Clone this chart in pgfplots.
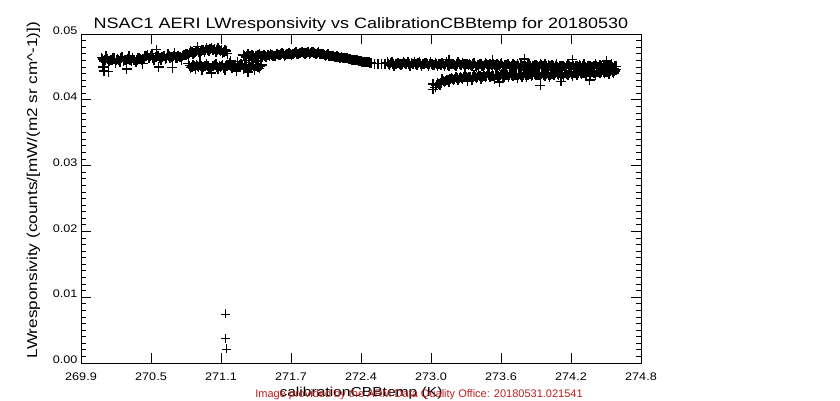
\documentclass[border=0pt]{standalone}
\usepackage{fontspec}
\setmainfont{Liberation Sans}
\newfontfamily\titlefont[FakeStretch=1.2]{Liberation Sans}
\newfontfamily\tickfont[FakeStretch=1.15]{Liberation Sans}
\usepackage{pgfplots}
\usepackage{pgfplotstable}
\pgfplotsset{compat=1.18}
\definecolor{armred}{RGB}{190,30,30}
\pgfplotstableread{
x y
271.16 0.00745
271.16 0.0038
271.17 0.00213
}\outliers
\pgfplotstableread{
x y
270.08 0.0464
270.09 0.0450
270.10 0.0459
270.10 0.0444
270.12 0.0466
270.14 0.0457
270.14 0.0443
270.16 0.0461
270.18 0.0463
270.20 0.0456
270.22 0.0462
270.24 0.0458
270.26 0.0465
270.28 0.0460
270.30 0.0458
270.30 0.0447
270.32 0.0467
270.34 0.0459
270.36 0.0461
270.38 0.0457
270.40 0.0464
270.42 0.0462
270.44 0.0455
270.46 0.0467
270.48 0.0468
270.50 0.0463
270.52 0.0470
270.54 0.0461
270.56 0.0465
270.56 0.0476
270.58 0.0467
270.58 0.0450
270.60 0.0460
270.62 0.0466
270.64 0.0462
270.66 0.0469
270.68 0.0464
270.70 0.0462
270.70 0.0449
270.72 0.0471
270.74 0.0463
270.76 0.0465
270.78 0.0461
270.80 0.0468
270.82 0.0470
270.84 0.0466
270.86 0.0474
270.88 0.0469
270.90 0.0473
270.92 0.0477
270.92 0.0481
270.94 0.0471
270.96 0.0476
270.98 0.0473
271.00 0.0478
271.02 0.0474
271.04 0.0479
271.06 0.0475
271.08 0.0472
271.10 0.0478
271.12 0.0474
271.14 0.0471
271.16 0.0476
271.18 0.0470
270.84 0.0455
270.86 0.0449
270.88 0.0453
270.90 0.0447
270.92 0.0452
270.94 0.0456
270.96 0.0446
270.98 0.0451
271.00 0.0454
271.02 0.0448
271.04 0.0441
271.06 0.0452
271.08 0.0455
271.10 0.0447
271.12 0.0450
271.14 0.0453
271.16 0.0446
271.18 0.0451
271.20 0.0456
271.22 0.0448
271.24 0.0453
271.26 0.0444
271.28 0.0450
271.30 0.0455
271.32 0.0447
271.34 0.0452
271.36 0.0442
271.38 0.0449
271.40 0.0454
271.42 0.0446
271.44 0.0451
271.46 0.0448
271.48 0.0453
271.21 0.0459
271.27 0.0458
271.33 0.0460
271.39 0.0457
271.45 0.0459
271.32 0.0468
271.34 0.0465
271.36 0.0469
271.38 0.0466
271.40 0.0468
271.42 0.0464
271.44 0.0467
271.46 0.0469
271.48 0.0466
271.50 0.0468
271.52 0.0465
271.54 0.0468
271.56 0.0470
271.58 0.0466
271.60 0.0467
271.62 0.0470
271.64 0.0468
271.66 0.0471
271.68 0.0467
271.70 0.0469
271.72 0.0471
271.74 0.0468
271.76 0.0470
271.78 0.0472
271.80 0.0469
271.82 0.0471
271.84 0.0473
271.86 0.0470
271.88 0.0472
271.90 0.0470
271.92 0.0473
271.94 0.0471
271.96 0.0469
271.98 0.0472
272.00 0.0469
272.02 0.0470
272.04 0.0467
272.06 0.0469
272.08 0.0466
272.10 0.0467
272.12 0.0465
272.14 0.0466
272.16 0.0464
272.18 0.0465
272.20 0.0463
272.22 0.0464
272.24 0.0462
272.26 0.0462
272.28 0.0461
272.30 0.0460
272.32 0.0460
272.34 0.0459
272.36 0.0458
272.38 0.0458
272.40 0.0457
272.42 0.0457
272.44 0.0456
272.47 0.0455
272.50 0.0455
272.53 0.0455
272.56 0.0455
272.58 0.0457
272.60 0.0453
272.62 0.0458
272.64 0.0452
272.66 0.0455
272.68 0.0456
272.70 0.0453
272.72 0.0458
272.74 0.0454
272.76 0.0457
272.78 0.0452
272.80 0.0455
272.82 0.0457
272.84 0.0453
272.86 0.0458
272.88 0.0452
272.90 0.0455
272.92 0.0456
272.94 0.0452
272.96 0.0457
272.98 0.0453
273.00 0.0456
273.02 0.0451
273.04 0.0454
273.06 0.0456
273.08 0.0452
273.10 0.0457
273.12 0.0451
273.14 0.0454
273.16 0.0455
273.18 0.0452
273.20 0.0457
273.22 0.0453
273.24 0.0456
273.26 0.0451
273.28 0.0454
273.30 0.0455
273.32 0.0451
273.34 0.0456
273.36 0.0450
273.38 0.0453
273.40 0.0454
273.42 0.0451
273.44 0.0456
273.46 0.0452
273.48 0.0455
273.50 0.0450
273.52 0.0453
273.54 0.0455
273.56 0.0451
273.58 0.0456
273.60 0.0450
273.62 0.0453
273.64 0.0454
273.66 0.0450
273.68 0.0455
273.70 0.0451
273.72 0.0454
273.74 0.0449
273.76 0.0452
273.78 0.0454
273.80 0.0450
273.82 0.0455
273.84 0.0449
273.86 0.0452
273.88 0.0453
273.90 0.0450
273.92 0.0455
273.94 0.0451
273.96 0.0454
273.98 0.0449
274.00 0.0452
274.02 0.0453
274.04 0.0449
274.06 0.0454
274.08 0.0448
274.10 0.0451
274.12 0.0452
274.14 0.0449
274.16 0.0454
274.18 0.0450
274.20 0.0453
274.22 0.0448
274.24 0.0451
274.26 0.0453
274.28 0.0449
274.30 0.0454
274.32 0.0448
274.34 0.0451
274.36 0.0452
274.38 0.0449
274.40 0.0454
274.42 0.0450
274.44 0.0453
274.46 0.0448
274.48 0.0451
274.50 0.0453
274.52 0.0449
274.54 0.0454
274.56 0.0448
274.58 0.0451
273.12 0.0461
273.50 0.0460
273.78 0.0462
274.20 0.0461
274.50 0.0459
272.98 0.0416
273.00 0.0419
272.98 0.0424
273.02 0.0425
273.04 0.0423
273.06 0.0431
273.08 0.0427
273.10 0.0430
273.12 0.0427
273.14 0.0433
273.16 0.0430
273.18 0.0435
273.20 0.0430
273.22 0.0434
273.24 0.0431
273.26 0.0438
273.28 0.0433
273.30 0.0434
273.32 0.0430
273.34 0.0437
273.36 0.0433
273.38 0.0438
273.40 0.0432
273.42 0.0436
273.44 0.0434
273.46 0.0440
273.48 0.0435
273.50 0.0436
273.52 0.0432
273.54 0.0438
273.56 0.0434
273.58 0.0439
273.60 0.0434
273.62 0.0438
273.64 0.0435
273.66 0.0441
273.68 0.0436
273.70 0.0437
273.72 0.0433
273.74 0.0439
273.76 0.0435
273.78 0.0440
273.80 0.0434
273.82 0.0439
273.84 0.0436
273.86 0.0442
273.88 0.0437
273.90 0.0438
273.92 0.0434
273.94 0.0440
273.96 0.0436
273.98 0.0441
274.00 0.0435
274.02 0.0439
274.04 0.0437
274.06 0.0443
274.08 0.0438
274.10 0.0439
274.12 0.0435
274.14 0.0441
274.16 0.0437
274.18 0.0442
274.20 0.0436
274.22 0.0441
274.24 0.0438
274.26 0.0444
274.28 0.0439
274.30 0.0440
274.32 0.0436
274.34 0.0443
274.36 0.0439
274.38 0.0444
274.40 0.0438
274.42 0.0442
274.44 0.0440
274.46 0.0446
274.48 0.0441
274.50 0.0442
274.52 0.0439
274.54 0.0445
274.56 0.0441
274.58 0.0446
273.28 0.0428
273.56 0.0427
273.92 0.0422
274.10 0.0428
274.35 0.0430
270.09 0.0462
270.11 0.0460
270.13 0.0462
270.15 0.0459
270.17 0.0461
270.19 0.0463
270.21 0.0460
270.23 0.0461
270.25 0.0463
270.27 0.0459
270.29 0.0461
270.31 0.0462
270.33 0.0460
270.35 0.0463
270.37 0.0460
270.39 0.0461
270.41 0.0463
270.43 0.0460
270.45 0.0462
270.47 0.0466
270.49 0.0464
270.51 0.0466
270.53 0.0463
270.55 0.0465
270.57 0.0467
270.59 0.0464
270.61 0.0465
270.63 0.0467
270.65 0.0464
270.67 0.0466
270.69 0.0465
270.71 0.0467
270.73 0.0464
270.75 0.0466
270.77 0.0465
270.79 0.0467
270.81 0.0468
270.83 0.0469
270.85 0.0471
270.87 0.0472
270.89 0.0471
270.91 0.0474
270.93 0.0473
270.95 0.0474
270.97 0.0476
270.99 0.0475
271.01 0.0476
271.03 0.0477
271.05 0.0476
271.07 0.0477
271.09 0.0475
271.11 0.0476
271.13 0.0475
271.15 0.0473
271.17 0.0474
270.85 0.0452
270.87 0.0450
270.89 0.0451
270.91 0.0453
270.93 0.0450
270.95 0.0452
270.97 0.0450
270.99 0.0452
271.01 0.0451
271.03 0.0449
271.05 0.0451
271.07 0.0453
271.09 0.0450
271.11 0.0452
271.13 0.0451
271.15 0.0449
271.17 0.0452
271.19 0.0453
271.21 0.0451
271.23 0.0452
271.25 0.0450
271.27 0.0452
271.29 0.0451
271.31 0.0453
271.33 0.0450
271.35 0.0451
271.37 0.0452
271.39 0.0450
271.41 0.0451
271.43 0.0452
271.45 0.0450
271.47 0.0451
271.33 0.0467
271.35 0.0466
271.37 0.0467
271.39 0.0468
271.41 0.0466
271.43 0.0467
271.45 0.0468
271.47 0.0467
271.49 0.0466
271.51 0.0467
271.53 0.0468
271.55 0.0467
271.57 0.0468
271.59 0.0467
271.61 0.0469
271.63 0.0468
271.65 0.0469
271.67 0.0470
271.69 0.0468
271.71 0.0470
271.73 0.0469
271.75 0.0470
271.77 0.0471
271.79 0.0470
271.81 0.0471
271.83 0.0472
271.85 0.0471
271.87 0.0471
271.89 0.0472
271.91 0.0471
271.93 0.0472
271.95 0.0470
271.97 0.0471
271.99 0.0470
272.01 0.0470
272.03 0.0468
272.05 0.0468
272.07 0.0467
272.09 0.0467
272.11 0.0466
272.13 0.0465
272.15 0.0465
272.17 0.0464
272.19 0.0464
272.21 0.0463
272.23 0.0463
272.25 0.0462
272.27 0.0461
272.29 0.0461
272.31 0.0460
272.33 0.0459
272.35 0.0459
272.37 0.0458
272.39 0.0457
272.41 0.0457
272.43 0.0456
272.59 0.0455
272.61 0.0456
272.63 0.0454
272.65 0.0455
272.67 0.0456
272.69 0.0454
272.71 0.0455
272.73 0.0456
272.75 0.0454
272.77 0.0455
272.79 0.0456
272.81 0.0454
272.83 0.0455
272.85 0.0456
272.87 0.0454
272.89 0.0455
272.91 0.0456
272.93 0.0454
272.95 0.0454
272.97 0.0455
272.99 0.0453
273.01 0.0454
273.03 0.0455
273.05 0.0453
273.07 0.0454
273.09 0.0455
273.11 0.0453
273.13 0.0454
273.15 0.0455
273.17 0.0453
273.19 0.0454
273.21 0.0455
273.23 0.0453
273.25 0.0454
273.27 0.0455
273.29 0.0453
273.31 0.0453
273.33 0.0454
273.35 0.0452
273.37 0.0453
273.39 0.0454
273.41 0.0452
273.43 0.0453
273.45 0.0454
273.47 0.0452
273.49 0.0453
273.51 0.0454
273.53 0.0452
273.55 0.0453
273.57 0.0454
273.59 0.0452
273.61 0.0453
273.63 0.0454
273.65 0.0452
273.67 0.0452
273.69 0.0453
273.71 0.0451
273.73 0.0452
273.75 0.0453
273.77 0.0451
273.79 0.0452
273.81 0.0453
273.83 0.0451
273.85 0.0452
273.87 0.0453
273.89 0.0451
273.91 0.0452
273.93 0.0453
273.95 0.0451
273.97 0.0452
273.99 0.0453
274.01 0.0451
274.03 0.0451
274.05 0.0452
274.07 0.0450
274.09 0.0451
274.11 0.0452
274.13 0.0450
274.15 0.0451
274.17 0.0452
274.19 0.0450
274.21 0.0451
274.23 0.0452
274.25 0.0450
274.27 0.0451
274.29 0.0452
274.31 0.0450
274.33 0.0451
274.35 0.0452
274.37 0.0450
274.39 0.0451
274.41 0.0452
274.43 0.0450
274.45 0.0451
274.47 0.0452
274.49 0.0450
274.51 0.0451
274.53 0.0452
274.55 0.0450
274.57 0.0451
273.01 0.0422
273.03 0.0424
273.05 0.0426
273.07 0.0428
273.09 0.0429
273.11 0.0430
273.13 0.0431
273.15 0.0432
273.17 0.0432
273.19 0.0433
273.21 0.0433
273.23 0.0433
273.25 0.0434
273.27 0.0434
273.29 0.0434
273.31 0.0434
273.33 0.0435
273.35 0.0435
273.37 0.0435
273.39 0.0436
273.41 0.0435
273.43 0.0436
273.45 0.0436
273.47 0.0437
273.49 0.0436
273.51 0.0436
273.53 0.0437
273.55 0.0436
273.57 0.0437
273.59 0.0436
273.61 0.0437
273.63 0.0438
273.65 0.0437
273.67 0.0438
273.69 0.0437
273.71 0.0437
273.73 0.0438
273.75 0.0437
273.77 0.0438
273.79 0.0437
273.81 0.0438
273.83 0.0439
273.85 0.0438
273.87 0.0439
273.89 0.0438
273.91 0.0438
273.93 0.0439
273.95 0.0438
273.97 0.0439
273.99 0.0438
274.01 0.0438
274.03 0.0439
274.05 0.0440
274.07 0.0439
274.09 0.0440
274.11 0.0439
274.13 0.0440
274.15 0.0439
274.17 0.0440
274.19 0.0439
274.21 0.0440
274.23 0.0441
274.25 0.0440
274.27 0.0441
274.29 0.0440
274.31 0.0441
274.33 0.0442
274.35 0.0441
274.37 0.0442
274.39 0.0441
274.41 0.0442
274.43 0.0443
274.45 0.0442
274.47 0.0443
274.49 0.0442
274.51 0.0443
274.53 0.0444
274.55 0.0443
274.57 0.0444
}\datatable
\begin{document}
\begin{tikzpicture}
\useasboundingbox (0,0) rectangle (840pt,400pt);
\begin{axis}[
  at={(81pt,37pt)}, anchor=south west,
  scale only axis, width=560pt, height=329pt,
  xmin=269.9, xmax=274.8, ymin=0, ymax=0.05,
  xtick={269.9,270.5125,271.125,271.7375,272.35,272.9625,273.575,274.1875,274.8},
  xticklabels={269.9,270.5,271.1,271.7,272.4,273.0,273.6,274.2,274.8},
  ytick={0,0.01,0.02,0.03,0.04,0.05},
  minor y tick num=9,
  minor x tick num=0,
  scaled x ticks=false, scaled y ticks=false,
  major tick length=10pt, minor tick length=5pt,
  tick style={black, line width=0.8pt},
  axis line style={line width=0.8pt},
  /pgf/number format/assume math mode=true,
  yticklabel style={/pgf/number format/.cd, fixed, fixed zerofill, precision=2, /tikz/.cd, font=\fontsize{11}{13}\tickfont, yshift=3pt},
  xticklabel style={font=\fontsize{11}{13}\tickfont, yshift=-6pt},
]
\addplot[only marks, mark=+, mark size=5pt, mark options={line width=1.4pt}, black] table[x=x, y=y] {\datatable};
\addplot[only marks, mark=+, mark size=4.5pt, mark options={line width=0.9pt}, black] table[x=x, y=y] {\outliers};
\end{axis}
\node[anchor=base, font=\fontsize{15}{18}\titlefont] at (361pt,371.5pt) {NSAC1 AERI LWresponsivity vs CalibrationCBBtemp for 20180530};
\node[anchor=base, rotate=90, font=\fontsize{14.3}{17}\titlefont] at (37pt,210pt) {LWresponsivity (counts/[mW/(m2 sr cm\textasciicircum-1)])};
\node[anchor=base, font=\fontsize{13}{16}\titlefont] at (361pt,4pt) {calibrationCBBtemp (K)};
\node[anchor=base, font=\fontsize{11}{13}\selectfont, text=armred] at (419pt,3pt) {Image provided by the ARM Data Quality Office: 20180531.021541};
\end{tikzpicture}
\end{document}
